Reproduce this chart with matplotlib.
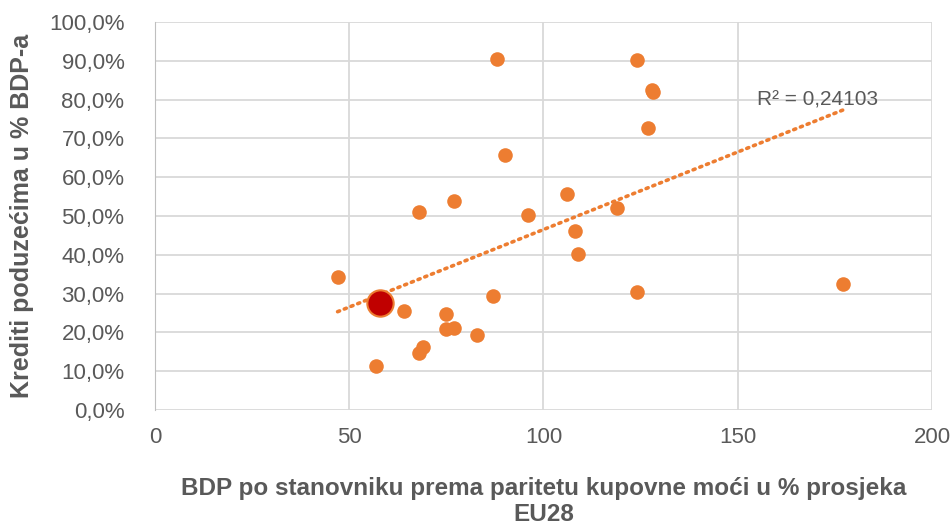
import numpy as np
import matplotlib.pyplot as plt
from matplotlib.ticker import FuncFormatter

# BDP per capita (PPS, EU28=100) and loans to enterprises (% of GDP)
bdp = [47, 57, 64, 68, 68, 69, 75, 75, 77, 77, 83, 87, 88, 90, 96,
       106, 108, 109, 119, 124, 124, 127, 128, 128.1, 177]
krediti = [34.3, 11.4, 25.6, 51.0, 14.8, 16.2, 24.7, 20.8, 21.1, 53.9, 19.4, 29.4, 90.5, 65.7, 50.3,
           55.7, 46.1, 40.2, 52.0, 90.2, 30.4, 72.7, 82.6, 82.0, 32.5]
hr_bdp = [58]
hr_krediti = [27.6]
r2_label = "R² = 0,24103"

plt.rcParams['font.family'] = ['Liberation Sans', 'DejaVu Sans']
orange = '#ED7D31'
gray = '#595959'

fig = plt.figure(figsize=(9.53, 5.28), dpi=100)
ax = fig.add_axes([0.1626, 0.2235, 0.8154, 0.7348])

ax.scatter(bdp, krediti, s=110, color=orange, zorder=3, linewidths=0)
ax.scatter(hr_bdp, hr_krediti, s=360, color='#C00000', edgecolors=orange, linewidths=1.5, zorder=4)

# linear trend (Excel-like)
xs = np.array(bdp + hr_bdp, dtype=float)
ys = np.array(krediti + hr_krediti, dtype=float)
k, n = np.polyfit(xs, ys, 1)
tx = np.array([xs.min(), xs.max()])
ax.plot(tx, k * tx + n, linestyle=(0, (0.6, 1.4)), dash_capstyle='round', color=orange, lw=2.6, zorder=2)
ax.text(155, 80, r2_label, fontsize=15, color=gray, ha='left', va='center')

ax.set_xlim(0, 200)
ax.set_ylim(0, 100)
ax.set_xticks([0, 50, 100, 150, 200])
ax.set_yticks(np.arange(0, 101, 10))
ax.yaxis.set_major_formatter(FuncFormatter(lambda v, p: f"{v:.1f}%".replace('.', ',')))
ax.grid(True, color='#D9D9D9', lw=1.3)
ax.set_axisbelow(True)
for s in ['top', 'right', 'bottom']:
    ax.spines[s].set_visible(False)
ax.spines['left'].set_color('#BFBFBF')
ax.tick_params(axis='both', length=0, colors=gray)
ax.tick_params(axis='y', labelsize=16, pad=22)
ax.tick_params(axis='x', labelsize=16, pad=12)

ax.set_ylabel("Krediti poduzećima u % BDP-a", fontsize=18, fontweight='bold', color=gray, labelpad=11)
ax.set_xlabel("BDP po stanovniku prema paritetu kupovne moći u % prosjeka\nEU28", fontsize=17.5,
              fontweight='bold', color=gray, labelpad=21, linespacing=1.2)

fig.savefig('out.png', dpi=100)
